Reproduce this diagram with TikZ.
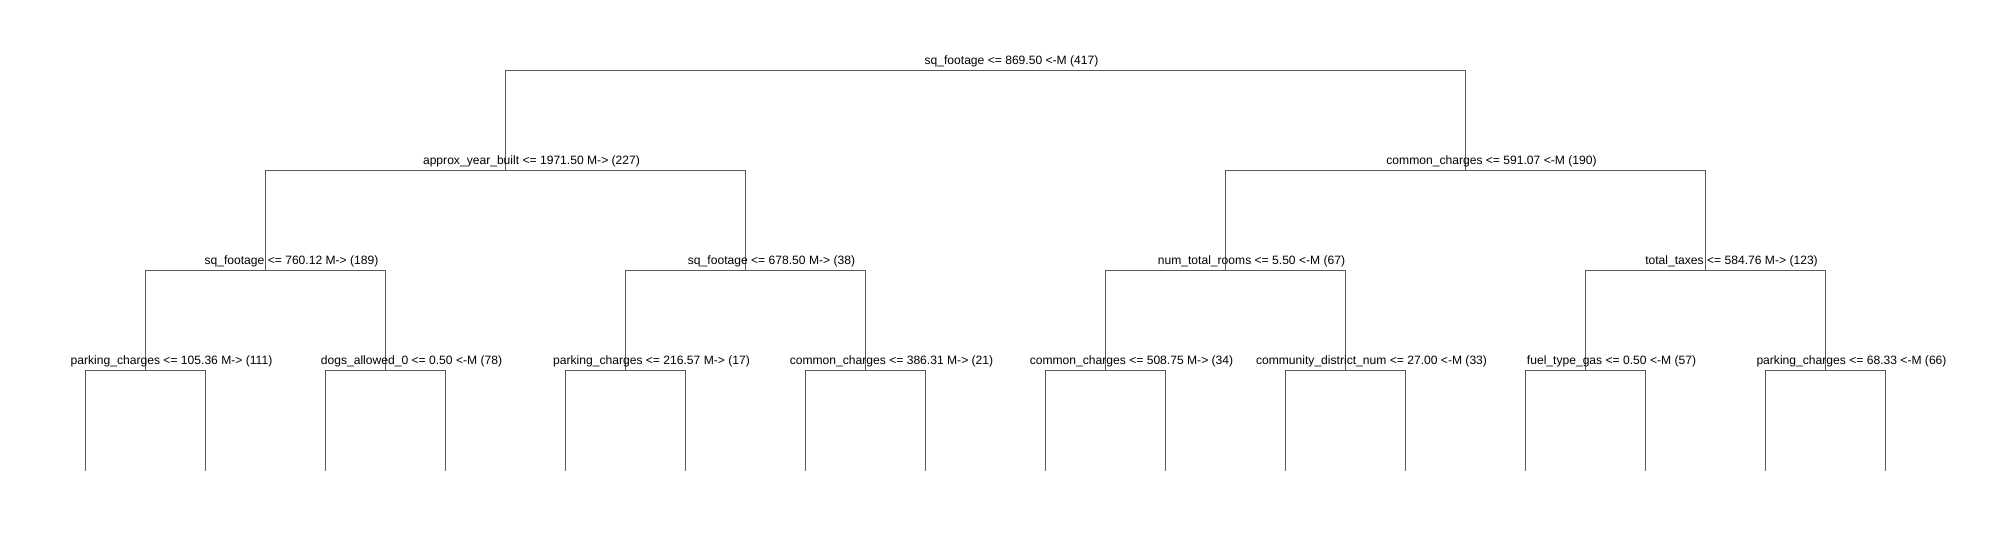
\documentclass[tikz,border=0pt]{standalone}
\usepackage{fontspec}
\setmainfont{Liberation Sans}
\usepackage{xcolor}
\usepackage{tikz}
\usetikzlibrary{positioning}
\definecolor{linegray}{RGB}{90,90,90}

\begin{document}
\begin{tikzpicture}[
x = 1pt, y = -1pt,
node distance = 6pt,
lab/.style = {anchor=base, inner sep=0pt, xshift=26pt,
              font=\fontsize{12.1}{14}\selectfont},
branch/.style = {draw=linegray, line width=1pt},
                        ]
\useasboundingbox (0,0) rectangle (2014,540);
% split points
\coordinate (p0)   at (985.5,70.5);
\coordinate (p1)   at (505.5,170.5);
\coordinate (p2)   at (1465.5,170.5);
\coordinate (p11)  at (265.5,270.5);
\coordinate (p12)  at (745.5,270.5);
\coordinate (p21)  at (1225.5,270.5);
\coordinate (p22)  at (1705.5,270.5);
\coordinate (p111) at (145.5,370.5);
\coordinate (p112) at (385.5,370.5);
\coordinate (p121) at (625.5,370.5);
\coordinate (p122) at (865.5,370.5);
\coordinate (p211) at (1105.5,370.5);
\coordinate (p212) at (1345.5,370.5);
\coordinate (p221) at (1585.5,370.5);
\coordinate (p222) at (1825.5,370.5);
% leaves
\coordinate (l1)  at (85.5,470.7);
\coordinate (l2)  at (205.5,470.7);
\coordinate (l3)  at (325.5,470.7);
\coordinate (l4)  at (445.5,470.7);
\coordinate (l5)  at (565.5,470.7);
\coordinate (l6)  at (685.5,470.7);
\coordinate (l7)  at (805.5,470.7);
\coordinate (l8)  at (925.5,470.7);
\coordinate (l9)  at (1045.5,470.7);
\coordinate (l10) at (1165.5,470.7);
\coordinate (l11) at (1285.5,470.7);
\coordinate (l12) at (1405.5,470.7);
\coordinate (l13) at (1525.5,470.7);
\coordinate (l14) at (1645.5,470.7);
\coordinate (l15) at (1765.5,470.7);
\coordinate (l16) at (1885.5,470.7);

\draw [branch] (p1) |- (p0) -| (p2);
\draw [branch] (p11) |- (p1) -| (p12);
\draw [branch] (p21) |- (p2) -| (p22);
\draw [branch] (p111) |- (p11) -| (p112);
\draw [branch] (p121) |- (p12) -| (p122);
\draw [branch] (p211) |- (p21) -| (p212);
\draw [branch] (p221) |- (p22) -| (p222);
\draw [branch] (l1) |- (p111) -| (l2);
\draw [branch] (l3) |- (p112) -| (l4);
\draw [branch] (l5) |- (p121) -| (l6);
\draw [branch] (l7) |- (p122) -| (l8);
\draw [branch] (l9) |- (p211) -| (l10);
\draw [branch] (l11) |- (p212) -| (l12);
\draw [branch] (l13) |- (p221) -| (l14);
\draw [branch] (l15) |- (p222) -| (l16);

\node (t0)   [above=of p0, lab]   {sq\_footage <= 869.50 <-M (417)};
\node (t1)   [above=of p1, lab]   {approx\_year\_built <= 1971.50 M-> (227)};
\node (t2)   [above=of p2, lab]   {common\_charges <= 591.07 <-M (190)};
\node (t11)  [above=of p11, lab]  {sq\_footage <= 760.12 M-> (189)};
\node (t12)  [above=of p12, lab]  {sq\_footage <= 678.50 M-> (38)};
\node (t21)  [above=of p21, lab]  {num\_total\_rooms <= 5.50 <-M (67)};
\node (t22)  [above=of p22, lab]  {total\_taxes <= 584.76 M-> (123)};
\node (t111) [above=of p111, lab] {parking\_charges <= 105.36 M-> (111)};
\node (t112) [above=of p112, lab] {dogs\_allowed\_0 <= 0.50 <-M (78)};
\node (t121) [above=of p121, lab] {parking\_charges <= 216.57 M-> (17)};
\node (t122) [above=of p122, lab] {common\_charges <= 386.31 M-> (21)};
\node (t211) [above=of p211, lab] {common\_charges <= 508.75 M-> (34)};
\node (t212) [above=of p212, lab] {community\_district\_num <= 27.00 <-M (33)};
\node (t221) [above=of p221, lab] {fuel\_type\_gas <= 0.50 <-M (57)};
\node (t222) [above=of p222, lab] {parking\_charges <= 68.33 <-M (66)};
\end{tikzpicture}
\end{document}
